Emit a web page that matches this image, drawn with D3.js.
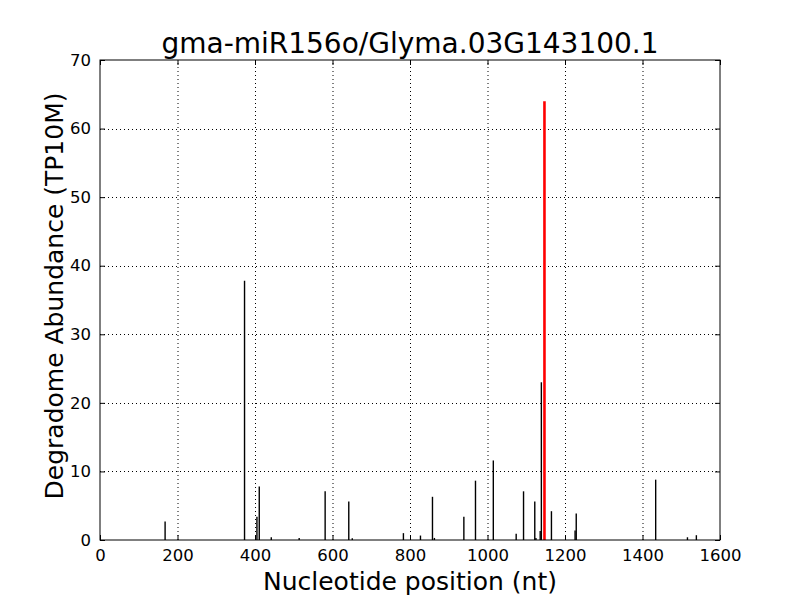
<!DOCTYPE html>
<html><head><meta charset="utf-8">
<script src="https://cdn.jsdelivr.net/npm/d3@7"></script>
<style>body{margin:0;background:#fff}svg{display:block}text{font-family:"DejaVu Sans",sans-serif;fill:#000}</style>
</head><body><div id="chart"></div>
<script>
const title = "gma-miR156o/Glyma.03G143100.1";
const xLabel = "Nucleotide position (nt)";
const yLabel = "Degradome Abundance (TP10M)";
const xTicks = [0,200,400,600,800,1000,1200,1400,1600];
const yTicks = [0,10,20,30,40,50,60,70];
const positions = [168,373,405,411,442,514,581,642,651,783,827,858,863,939,969,1015,1074,1093,1122,1125,1136,1139,1165,1226,1229,1434,1516,1539];
const values    = [2.7,37.8,3.4,7.8,0.4,0.3,7.1,5.6,0.25,1.0,0.65,6.3,0.3,3.4,8.65,11.6,0.9,7.1,5.6,0.3,1.3,23.0,4.2,1.4,3.85,8.8,0.4,0.7];
const targetPos = [1147];
const targetVal = [64];

const W=800,H=600, m={l:100,t:60,r:80,b:60};
const svg=d3.select("#chart").append("svg").attr("width",W).attr("height",H);
const x=d3.scaleLinear().domain([0,1600]).range([m.l,W-m.r]);
const y=d3.scaleLinear().domain([0,70]).range([H-m.b,m.t]);
const g=svg.append("g");
// grid
g.selectAll(".gx").data(xTicks.slice(1,-1)).join("line").attr("x1",d=>x(d)+0.5).attr("x2",d=>x(d)+0.5).attr("y1",y(0)).attr("y2",y(70))
 .attr("stroke","#000").attr("stroke-width",1).attr("stroke-dasharray","1,3");
g.selectAll(".gy").data(yTicks.slice(1,-1)).join("line").attr("y1",d=>Math.round(y(d))+0.5).attr("y2",d=>Math.round(y(d))+0.5).attr("x1",x(0)).attr("x2",x(1600))
 .attr("stroke","#000").attr("stroke-width",1).attr("stroke-dasharray","1,3");
// bars
const data=positions.map((p,i)=>({p,v:values[i]}));
g.selectAll(".bar").data(data).join("line").attr("x1",d=>x(d.p)).attr("x2",d=>x(d.p)).attr("y1",y(0)).attr("y2",d=>y(d.v))
 .attr("stroke","#000").attr("stroke-width",1.4);
const tdata=targetPos.map((p,i)=>({p,v:targetVal[i]}));
g.selectAll(".tbar").data(tdata).join("line").attr("x1",d=>x(d.p)).attr("x2",d=>x(d.p)).attr("y1",y(0)).attr("y2",d=>y(d.v))
 .attr("stroke","#ff0000").attr("stroke-width",2.6);
// axes
const tickLen=5;
const ax=d3.axisBottom(x).tickValues(xTicks).tickSize(-tickLen).tickPadding(9).tickFormat(d3.format("d"));
const axT=d3.axisTop(x).tickValues(xTicks).tickSize(-tickLen).tickFormat("");
const ay=d3.axisLeft(y).tickValues(yTicks).tickSize(-tickLen).tickPadding(9).tickFormat(d3.format("d"));
const ayR=d3.axisRight(y).tickValues(yTicks).tickSize(-tickLen).tickFormat("");
function style(s){s.select(".domain").remove();s.selectAll("line").attr("stroke","#000");s.selectAll("text").style("font-size","16.5px").attr("fill","#000").style("font-family","DejaVu Sans");}
svg.append("g").attr("transform",`translate(0,${y(0)})`).call(ax).call(style);
svg.append("g").attr("transform",`translate(0,${y(70)})`).call(axT).call(style);
svg.append("g").attr("transform",`translate(${x(0)},0)`).call(ay).call(style);
svg.append("g").attr("transform",`translate(${x(1600)},0)`).call(ayR).call(style);
svg.append("rect").attr("x",x(0)).attr("y",y(70)).attr("width",x(1600)-x(0)).attr("height",y(0)-y(70)).attr("fill","none").attr("stroke","#000").attr("stroke-width",1);
// labels
svg.append("text").attr("x",(x(0)+x(1600))/2).attr("y",53).attr("text-anchor","middle").style("font-size","28px").text(title);
svg.append("text").attr("x",(x(0)+x(1600))/2).attr("y",590).attr("text-anchor","middle").style("font-size","25px").text(xLabel);
svg.append("text").attr("transform",`translate(63,${(y(0)+y(70))/2-4}) rotate(-90)`).attr("text-anchor","middle").style("font-size","25px").text(yLabel);
</script></body></html>
